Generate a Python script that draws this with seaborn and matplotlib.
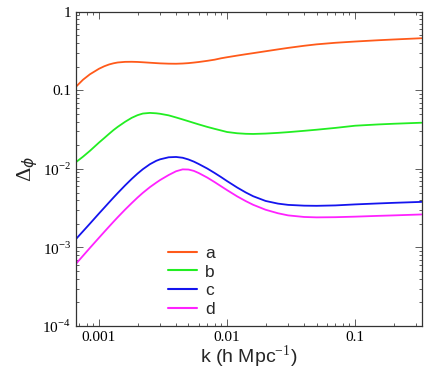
import numpy as np
import pandas as pd
import seaborn as sns
import matplotlib
matplotlib.use("Agg")
import matplotlib.pyplot as plt
from matplotlib.ticker import FixedLocator, FixedFormatter, LogLocator, NullFormatter

# wavenumber grid
k = [0.00066, 0.00075, 0.00085, 0.001, 0.0011, 0.0012, 0.0013, 0.0014, 0.0016, 0.0018,
     0.002, 0.0022, 0.0025, 0.0028, 0.003, 0.0035, 0.004, 0.0045, 0.005, 0.0055,
     0.006, 0.007, 0.008, 0.009, 0.01, 0.012, 0.014, 0.016, 0.02, 0.025,
     0.03, 0.04, 0.05, 0.07, 0.1, 0.15, 0.2, 0.33]

a = [0.1109, 0.1365, 0.1603, 0.1884, 0.2028, 0.2138, 0.2213, 0.2265, 0.2307, 0.2312,
     0.2301, 0.2280, 0.2249, 0.2223, 0.2208, 0.2188, 0.2183, 0.2198, 0.2223, 0.2259,
     0.2296, 0.2377, 0.2460, 0.2564, 0.2642, 0.2773, 0.2884, 0.2979, 0.3148, 0.3327,
     0.3475, 0.3698, 0.3855, 0.4036, 0.4188, 0.4345, 0.4446, 0.4613]
b = [0.01216, 0.01429, 0.01698, 0.02163, 0.02472, 0.02799, 0.03126, 0.03428, 0.03981, 0.04467,
     0.04831, 0.05070, 0.05164, 0.05105, 0.05035, 0.04808, 0.04519, 0.04266, 0.04046, 0.03855,
     0.03690, 0.03428, 0.03236, 0.03083, 0.02951, 0.02844, 0.02799, 0.02786, 0.02818, 0.02877,
     0.02938, 0.03055, 0.03155, 0.03327, 0.03548, 0.03681, 0.03758, 0.03873]
c = [0.001274, 0.001603, 0.002009, 0.002704, 0.003206, 0.003750, 0.004325, 0.004920, 0.006166, 0.007447,
     0.008710, 0.009908, 0.01148, 0.01268, 0.01324, 0.01406, 0.01419, 0.01387, 0.01318, 0.01239,
     0.01156, 0.01012, 0.008872, 0.007852, 0.006998, 0.005794, 0.005012, 0.004487, 0.003908, 0.003614,
     0.003483, 0.003404, 0.003388, 0.003428, 0.003532, 0.003631, 0.003698, 0.003802]
d = [0.0006166, 0.0007816, 0.0009863, 0.001327, 0.001578, 0.001845, 0.002128, 0.002421, 0.003034, 0.003664,
     0.004315, 0.004955, 0.005861, 0.006683, 0.007211, 0.008356, 0.009333, 0.009863, 0.009817, 0.009441,
     0.008872, 0.007762, 0.006792, 0.005998, 0.005370, 0.004467, 0.003890, 0.003491, 0.003020, 0.002723,
     0.002559, 0.002443, 0.002415, 0.002427, 0.002466, 0.002523, 0.002559, 0.002630]

names = ["a", "b", "c", "d"]
colors = ["#ff5a1a", "#22ee22", "#1414ee", "#ff22ff"]

ytick_vals = [1e-4, 1e-3, 1e-2, 0.1, 1]
ytick_labels = ["10$^{-4}$", "10$^{-3}$", "10$^{-2}$", "0.1", "1"]
xtick_vals = [0.001, 0.01, 0.1]
xtick_labels = ["0.001", "0.01", "0.1"]

df = pd.concat([pd.DataFrame({"k": k, "delta": v, "model": n})
                for n, v in zip(names, [a, b, c, d])])

sns.set_style("ticks")
plt.rcParams["mathtext.fontset"] = "custom"
plt.rcParams["mathtext.rm"] = "Liberation Serif"

fig = plt.figure(figsize=(4.41, 3.70), dpi=100)
ax = fig.add_axes([0.172, 0.119, 0.785, 0.849])

sns.lineplot(data=df, x="k", y="delta", hue="model", palette=colors,
             linewidth=1.3, ax=ax, sort=False)

ax.set_xscale("log")
ax.set_yscale("log")
ax.set_xlim(0.00066, 0.333)
ax.set_ylim(1e-4, 1)

ax.xaxis.set_major_locator(FixedLocator(xtick_vals))
ax.xaxis.set_major_formatter(FixedFormatter(xtick_labels))
ax.yaxis.set_major_locator(FixedLocator(ytick_vals))
ax.yaxis.set_major_formatter(FixedFormatter(ytick_labels))
for axis in [ax.xaxis, ax.yaxis]:
    axis.set_minor_locator(LogLocator(base=10, subs=np.arange(2, 10), numticks=20))
    axis.set_minor_formatter(NullFormatter())

ax.tick_params(which="both", direction="in", top=True, right=True, colors="#444444",
               labelcolor="black", width=0.6)
ax.tick_params(which="major", length=5)
ax.tick_params(which="minor", length=2.5)
for lab in ax.get_xticklabels() + ax.get_yticklabels():
    lab.set_fontfamily("Liberation Serif")
    lab.set_fontsize(11)

for s in ax.spines.values():
    s.set_linewidth(0.9)
    s.set_color("#333333")

ax.set_xlabel("k (h Mpc$^{-1}$)", fontsize=14, family="Liberation Sans", labelpad=0)
ax.set_ylabel(r"$\Delta_\phi$", fontsize=16, labelpad=2)

leg = ax.legend(loc="upper left", bbox_to_anchor=(0.22, 0.305), frameon=False,
                handlelength=1.7, handletextpad=0.45, labelspacing=0.2,
                prop={"family": "Liberation Sans", "size": 12.5})
for line in leg.get_lines():
    line.set_linewidth(1.5)

fig.savefig("out.png", dpi=100)
